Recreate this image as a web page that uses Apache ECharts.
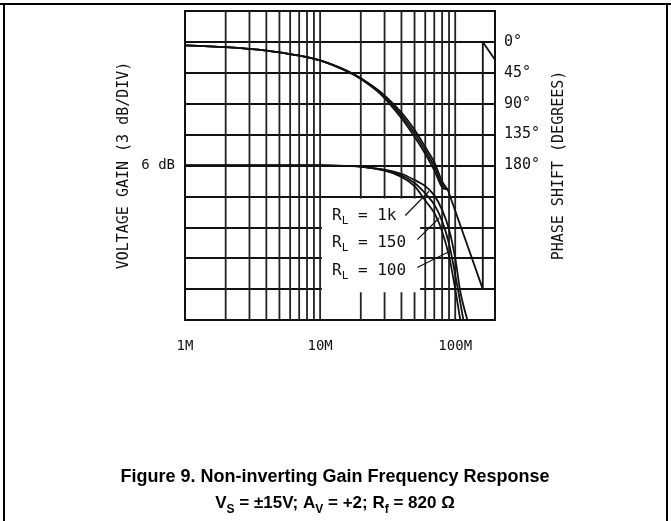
<!DOCTYPE html>
<html lang="en">
	<head>
		<meta charset="UTF-8">
		<title>Figure 9</title>
		<style type="text/css">
			html,
			body,
			.canvas {
				padding: 0;
				margin: 0;
				overflow: hidden;
				background-color: #fff;
				width: 100%;
				height: 100%;
			}
		</style>
	</head>
	<body>
		<div class="canvas" id="chart"></div>
		<script type="text/javascript" src="https://cdn.jsdelivr.net/npm/echarts@6/dist/echarts.min.js"></script>
		<script>
			// frequency axis (Hz), log
			const freqMin = 1e6
			const freqMax = 1.97e8
			const freqLabels = { 6: '1M', 7: '10M', 8: '100M' }
			const gridFreqs = [2e6, 3e6, 4e6, 5e6, 6e6, 7e6, 8e6, 9e6, 1e7,
				2e7, 3e7, 4e7, 5e7, 6e7, 7e7, 8e7, 9e7, 1e8]

			// left axis: voltage gain, 3 dB/div
			const gainMin = -9, gainMax = 21, gainStep = 3
			// right axis: phase, 45 deg/div, growing downward
			const phaseMin = -45, phaseMax = 405, phaseStep = 45
			const phaseTicks = [0, 45, 90, 135, 180]

			// gain curves [Hz, dB]
			const gain1k = [[1e6, 6], [1e7, 6], [1.5e7, 5.97], [2e7, 5.9], [3e7, 5.6], [4e7, 5.2], [5e7, 4.6],
				[6e7, 4.0], [7e7, 3.1], [8e7, 1.7], [9e7, -0.2], [1e8, -3.0], [1.1e8, -6.5], [1.23e8, -9]]
			const gain150 = [[1e6, 6], [1e7, 6], [1.5e7, 5.97], [2e7, 5.9], [3e7, 5.55], [4e7, 5.05], [5e7, 4.3],
				[6e7, 3.3], [7e7, 2.2], [8e7, 0.6], [9e7, -1.6], [1e8, -4.6], [1.15e8, -9]]
			const gain100 = [[1e6, 6], [1e7, 6], [1.5e7, 5.97], [2e7, 5.9], [3e7, 5.5], [4e7, 4.9], [5e7, 4.0],
				[6e7, 2.6], [7e7, 1.4], [8e7, -0.4], [9e7, -2.8], [1e8, -6.0], [1.09e8, -9]]

			// phase curves [Hz, deg]
			const phase1k = [[1e6, 5], [2e6, 7.7], [4e6, 12.6], [7e6, 20], [1e7, 27], [1.58e7, 42], [2e7, 53],
				[2.8e7, 73], [4e7, 103], [5e7, 128], [6e7, 153], [7e7, 175], [8e7, 203], [8.8e7, 215]]
			const phase150 = [[1e6, 5], [2e6, 7.7], [4e6, 12.6], [7e6, 20], [1e7, 27], [1.58e7, 42], [2e7, 53],
				[2.8e7, 74], [4e7, 107], [5e7, 133], [6e7, 158], [7e7, 181], [8e7, 208], [8.8e7, 215]]
			const phase100 = [[1e6, 5], [2e6, 7.7], [4e6, 12.6], [7e6, 20], [1e7, 27], [1.58e7, 43], [2e7, 54],
				[2.8e7, 76], [4e7, 111], [5e7, 138], [6e7, 163], [7e7, 187], [8e7, 212], [8.8e7, 215]]
			// shared tail, wraps from 360 back to 0
			const phaseTail = [[8.8e7, 215], [1.6e8, 360], [1.6e8, 0], [1.97e8, 26]]

			// leader lines [Hz, dB]
			const leader1k = [[4.27e7, 1.15], [6.4e7, 3.5]]
			const leader150 = [[5.24e7, -1.2], [7.6e7, 0.9]]
			const leader100 = [[5.24e7, -3.9], [8.9e7, -2.4]]

			const ink = '#111'
			const font = 'DejaVu Sans Mono'

			const chart = echarts.init(document.getElementById('chart'))

			function curve(data, axis, smooth, width) {
				return {
					type: 'line',
					data: data,
					yAxisIndex: axis,
					showSymbol: false,
					smooth: smooth,
					lineStyle: { color: ink, width: width || 1.8 },
					silent: true,
					z: 3
				}
			}

			const option = {
				animation: false,
				backgroundColor: '#fff',
				grid: {
					left: 185, top: 11, width: 310, height: 309,
					show: true, borderColor: ink, borderWidth: 2
				},
				xAxis: {
					type: 'log', logBase: 10, min: freqMin, max: freqMax,
					axisLine: { show: false },
					axisTick: { show: false },
					splitLine: { show: false },
					axisLabel: {
						margin: 19, color: ink, fontFamily: font, fontSize: 14,
						formatter: function(v) {
							const e = Math.log10(v)
							if (Math.abs(e - Math.round(e)) > 1e-6) return ''
							return freqLabels[Math.round(e)] || ''
						}
					}
				},
				yAxis: [{
					type: 'value', min: gainMin, max: gainMax, interval: gainStep,
					name: 'VOLTAGE GAIN (3 dB/DIV)', nameLocation: 'middle', nameGap: 53, nameRotate: 90,
					nameTextStyle: { color: ink, fontFamily: font, fontSize: 15 },
					axisLine: { show: false },
					axisTick: { show: false },
					splitLine: { show: true, lineStyle: { color: ink, width: 2 } },
					axisLabel: {
						margin: 10, color: ink, fontFamily: font, fontSize: 14,
						formatter: function(v) { return v === 6 ? '6 dB' : '' }
					}
				}, {
					type: 'value', min: phaseMin, max: phaseMax, interval: phaseStep, inverse: true,
					position: 'right',
					name: 'PHASE SHIFT (DEGREES)', nameLocation: 'middle', nameGap: 57, nameRotate: 90,
					nameTextStyle: { color: ink, fontFamily: font, fontSize: 15 },
					axisLine: { show: false },
					axisTick: { show: false },
					splitLine: { show: false },
					axisLabel: {
						margin: 9, color: ink, fontFamily: font, fontSize: 15,
						formatter: function(v) { return phaseTicks.indexOf(v) >= 0 ? v + '°' : '' }
					}
				}],
				series: [{
					// vertical log grid lines
					type: 'custom',
					silent: true,
					z: 0,
					data: gridFreqs.map(function(f) { return [f, gainMin] }),
					renderItem: function(params, api) {
						const p0 = api.coord([api.value(0), gainMin])
						const p1 = api.coord([api.value(0), gainMax])
						return {
							type: 'line',
							shape: { x1: p0[0], y1: p0[1], x2: p1[0], y2: p1[1] },
							style: { stroke: '#222', lineWidth: 1.8 }
						}
					}
				},
					curve(gain1k, 0, 0.3),
					curve(gain150, 0, 0.3),
					curve(gain100, 0, 0.3),
					curve(phase1k, 1, 0.3),
					curve(phase150, 1, 0.3),
					curve(phase100, 1, 0.3),
					curve(phaseTail, 1, false),
					curve(leader1k, 0, false, 1.2),
					curve(leader150, 0, false, 1.2),
					curve(leader100, 0, false, 1.2)
				]
			}
			chart.setOption(option)

			// blank box behind the load labels
			const boxA = chart.convertToPixel({ xAxisIndex: 0, yAxisIndex: 0 }, [1.03e7, 2.8])
			const boxB = chart.convertToPixel({ xAxisIndex: 0, yAxisIndex: 0 }, [5.5e7, -6.3])

			const labelRich = {
				r: { fontFamily: font, fontSize: 16, fill: ink, lineHeight: 22, verticalAlign: 'middle' },
				s: { fontFamily: font, fontSize: 11, fill: ink, lineHeight: 11, verticalAlign: 'bottom' }
			}
			function loadLabel(text, y) {
				return {
					type: 'text', x: 332, y: y, z: 10,
					style: { text: text, rich: labelRich, verticalAlign: 'middle', fill: ink }
				}
			}
			const capRich = {
				a: { fontFamily: 'Liberation Sans', fontWeight: 'bold', fontSize: 18, fill: '#000', lineHeight: 26, verticalAlign: 'middle' },
				b: { fontFamily: 'Liberation Sans', fontWeight: 'bold', fontSize: 17, fill: '#000', lineHeight: 26, verticalAlign: 'middle' },
				s: { fontFamily: 'Liberation Sans', fontWeight: 'bold', fontSize: 12, fill: '#000', lineHeight: 13, verticalAlign: 'bottom' }
			}

			chart.setOption({
				graphic: [
					{
						type: 'rect', z: 1, silent: true,
						shape: { x: boxA[0], y: boxA[1], width: boxB[0] - boxA[0], height: boxB[1] - boxA[1] },
						style: { fill: '#fff' }
					},
					loadLabel('{r|R}{s|L}{r| = 1k}', 216),
					loadLabel('{r|R}{s|L}{r| = 150}', 243),
					loadLabel('{r|R}{s|L}{r| = 100}', 271),
					// page frame
					{ type: 'line', z: 10, shape: { x1: 0, y1: 4, x2: 671, y2: 4 }, style: { stroke: '#000', lineWidth: 2 } },
					{ type: 'line', z: 10, shape: { x1: 4, y1: 4, x2: 4, y2: 521 }, style: { stroke: '#000', lineWidth: 2 } },
					{ type: 'line', z: 10, shape: { x1: 667, y1: 4, x2: 667, y2: 521 }, style: { stroke: '#000', lineWidth: 2 } },
					{
						type: 'text', x: 335, y: 477, z: 10,
						style: {
							text: '{a|Figure 9. Non-inverting Gain Frequency Response}',
							rich: capRich, align: 'center', verticalAlign: 'middle'
						}
					},
					{
						type: 'text', x: 335, y: 503, z: 10,
						style: {
							text: '{b|V}{s|S}{b| = ±15V; A}{s|V}{b| = +2; R}{s|f}{b| = 820 Ω}',
							rich: capRich, align: 'center', verticalAlign: 'middle'
						}
					}
				]
			})
		</script>
	</body>
</html>
